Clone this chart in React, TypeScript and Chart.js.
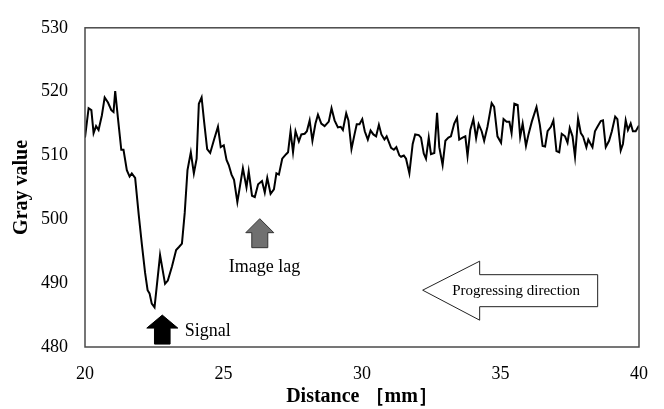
import React, { useEffect, useRef } from 'react';
import { Chart, registerables } from 'chart.js';

Chart.register(...registerables);

// Distance [mm]
const distances: number[] = [
  20.0, 20.13, 20.23, 20.31, 20.4, 20.49, 20.61, 20.71, 20.83, 20.95,
  21.03, 21.09, 21.19, 21.31, 21.39, 21.51, 21.61, 21.69, 21.81, 21.94,
  22.05, 22.17, 22.26, 22.33, 22.41, 22.51, 22.71, 22.89, 22.99, 23.14,
  23.29, 23.4, 23.5, 23.6, 23.7, 23.82, 23.93, 24.03, 24.11, 24.21,
  24.3, 24.41, 24.52, 24.66, 24.8, 24.9, 25.01, 25.11, 25.19, 25.29,
  25.38, 25.5, 25.7, 25.83, 25.91, 26.03, 26.13, 26.25, 26.39, 26.49,
  26.58, 26.7, 26.82, 26.91, 27.0, 27.12, 27.26, 27.33, 27.42, 27.51,
  27.6, 27.72, 27.81, 27.93, 28.01, 28.11, 28.21, 28.32, 28.41, 28.53,
  28.65, 28.8, 28.9, 29.01, 29.13, 29.23, 29.31, 29.43, 29.51, 29.62,
  29.73, 29.81, 29.91, 30.01, 30.1, 30.21, 30.31, 30.41, 30.51, 30.61,
  30.7, 30.81, 30.89, 31.05, 31.15, 31.24, 31.35, 31.41, 31.51, 31.59,
  31.71, 31.83, 31.92, 32.05, 32.13, 32.23, 32.31, 32.41, 32.49, 32.61,
  32.71, 32.79, 32.91, 33.01, 33.12, 33.21, 33.33, 33.43, 33.51, 33.63,
  33.73, 33.81, 33.91, 34.02, 34.12, 34.21, 34.32, 34.41, 34.53, 34.68,
  34.77, 34.89, 35.02, 35.11, 35.22, 35.32, 35.4, 35.5, 35.62, 35.71,
  35.8, 35.92, 36.01, 36.13, 36.3, 36.42, 36.52, 36.61, 36.7, 36.82,
  36.91, 37.02, 37.12, 37.21, 37.33, 37.42, 37.5, 37.6, 37.69, 37.8,
  37.9, 37.98, 38.1, 38.17, 38.23, 38.32, 38.41, 38.5, 38.62, 38.7,
  38.8, 38.92, 39.02, 39.14, 39.22, 39.34, 39.42, 39.52, 39.6, 39.7,
  39.78, 39.88, 40.0,
];

// Gray value
const grayValues: number[] = [
  512.8, 517.4, 517.1, 513.5, 514.6, 514.0, 516.3, 519.1, 518.3, 517.1,
  516.8, 520.1, 515.8, 510.9, 510.9, 507.7, 506.7, 507.2, 506.5, 500.7,
  496.2, 491.6, 488.9, 488.4, 486.8, 486.2, 494.4, 489.9, 490.4, 492.6,
  495.2, 495.7, 496.2, 501.0, 507.7, 510.5, 507.2, 509.5, 518.1, 519.1,
  515.3, 511.0, 510.4, 512.5, 514.5, 511.3, 511.6, 509.3, 508.5, 507.0,
  506.2, 502.7, 508.0, 505.0, 507.5, 503.7, 503.5, 505.5, 506.0, 504.2,
  506.5, 504.0, 504.7, 507.2, 507.0, 509.5, 510.2, 510.5, 513.8, 510.5,
  513.8, 512.2, 513.3, 513.4, 513.8, 515.5, 512.3, 515.0, 516.4, 515.0,
  514.6, 515.3, 517.4, 515.5, 514.4, 514.5, 514.0, 516.6, 515.5, 511.0,
  513.3, 514.9, 514.9, 515.7, 513.8, 512.5, 513.9, 513.3, 513.0, 514.8,
  513.3, 512.5, 513.0, 511.2, 510.9, 511.3, 510.0, 509.8, 510.0, 509.5,
  507.2, 511.8, 513.3, 513.2, 512.8, 510.3, 509.5, 512.8, 510.2, 510.4,
  516.7, 511.3, 508.5, 512.3, 512.8, 513.0, 515.0, 515.9, 512.5, 512.8,
  513.0, 509.9, 514.0, 515.7, 512.7, 514.9, 513.8, 512.3, 514.5, 518.2,
  517.6, 513.0, 512.0, 515.7, 515.3, 515.3, 513.5, 518.1, 517.9, 512.9,
  515.0, 511.5, 513.3, 515.3, 517.6, 514.8, 511.5, 511.4, 513.8, 514.5,
  515.5, 510.7, 510.5, 513.4, 513.0, 512.0, 514.3, 513.0, 509.8, 515.8,
  513.5, 513.0, 511.3, 512.5, 512.0, 511.3, 513.8, 514.5, 515.4, 515.5,
  511.3, 512.3, 513.8, 516.1, 515.7, 510.8, 511.8, 515.5, 514.0, 515.0,
  513.8, 513.8, 514.7,
];

const xTickValues = [20, 25, 30, 35, 40];
const yTickValues = [480, 490, 500, 510, 520, 530];

const xTitle = 'Distance ［mm］';
const yTitle = 'Gray value';
const signalLabel = 'Signal';
const lagLabel = 'Image lag';
const directionLabel = 'Progressing direction';

const SERIF = '"Liberation Serif", "Times New Roman", serif';

function upArrow(ctx: CanvasRenderingContext2D, tx: number, ty: number, headH: number, headHalf: number, shaftHalf: number, total: number, fill: string, stroke: string) {
  ctx.beginPath();
  ctx.moveTo(tx, ty);
  ctx.lineTo(tx + headHalf, ty + headH);
  ctx.lineTo(tx + shaftHalf, ty + headH);
  ctx.lineTo(tx + shaftHalf, ty + total);
  ctx.lineTo(tx - shaftHalf, ty + total);
  ctx.lineTo(tx - shaftHalf, ty + headH);
  ctx.lineTo(tx - headHalf, ty + headH);
  ctx.closePath();
  ctx.fillStyle = fill;
  ctx.fill();
  ctx.lineWidth = 1;
  ctx.strokeStyle = stroke;
  ctx.stroke();
}

const decorPlugin = {
  id: 'decor',
  afterDatasetsDraw(chart: any) {
    const { ctx, chartArea } = chart;
    const xs = chart.scales.x;
    const ys = chart.scales.y;
    ctx.save();
    // frame
    ctx.strokeStyle = '#4a4a4a';
    ctx.lineWidth = 1.5;
    ctx.strokeRect(chartArea.left, chartArea.top, chartArea.right - chartArea.left, chartArea.bottom - chartArea.top);

    // Signal arrow (black)
    const sx = xs.getPixelForValue(22.79);
    const sy = ys.getPixelForValue(485.0);
    upArrow(ctx, sx, sy, 13, 15.5, 7.8, 29, '#000000', '#000000');
    ctx.fillStyle = '#000000';
    ctx.font = `18px ${SERIF}`;
    ctx.textAlign = 'left';
    ctx.textBaseline = 'middle';
    ctx.fillText(signalLabel, sx + 22.5, sy + 16.5);

    // Image lag arrow (gray)
    const gx = xs.getPixelForValue(26.31);
    const gy = ys.getPixelForValue(500.1);
    upArrow(ctx, gx, gy, 14, 14, 8, 29, '#707070', '#333333');
    ctx.fillStyle = '#000000';
    ctx.fillText(lagLabel, gx - 31, gy + 49);

    // Progressing direction arrow (white, pointing left)
    const wx = xs.getPixelForValue(32.19);
    const wy = ys.getPixelForValue(488.9);
    ctx.beginPath();
    ctx.moveTo(wx, wy);
    ctx.lineTo(wx + 57, wy - 29);
    ctx.lineTo(wx + 57, wy - 15.5);
    ctx.lineTo(wx + 175, wy - 15.5);
    ctx.lineTo(wx + 175, wy + 16.5);
    ctx.lineTo(wx + 57, wy + 16.5);
    ctx.lineTo(wx + 57, wy + 30);
    ctx.closePath();
    ctx.fillStyle = '#ffffff';
    ctx.fill();
    ctx.strokeStyle = '#222222';
    ctx.lineWidth = 1;
    ctx.stroke();
    ctx.fillStyle = '#000000';
    ctx.font = `15px ${SERIF}`;
    ctx.textAlign = 'center';
    ctx.fillText(directionLabel, wx + 93.5, wy + 1);
    ctx.restore();
  },
};

export default function App() {
  const canvasRef = useRef<HTMLCanvasElement | null>(null);

  useEffect(() => {
    const canvas = canvasRef.current;
    if (!canvas) return;
    const points = distances.map((d, i) => ({ x: d, y: grayValues[i] }));
    const chart = new Chart(canvas, {
      type: 'line',
      data: {
        datasets: [
          {
            data: points,
            borderColor: '#000000',
            borderWidth: 2,
            pointRadius: 0,
            tension: 0,
            fill: false,
          },
        ],
      },
      options: {
        animation: false,
        responsive: false,
        devicePixelRatio: 1,
        layout: { padding: { top: 16, right: 24, left: 0, bottom: 0 } },
        plugins: {
          legend: { display: false },
          tooltip: { enabled: false },
        },
        scales: {
          x: {
            type: 'linear',
            min: 20,
            max: 40,
            afterFit: (s: any) => { s.height = 62; },
            afterBuildTicks: (s: any) => { s.ticks = xTickValues.map((v) => ({ value: v })); },
            grid: { display: false, drawTicks: false },
            border: { display: false },
            ticks: {
              padding: 16,
              color: '#000000',
              font: { family: SERIF, size: 18 },
              maxRotation: 0,
            },
            title: {
              display: true,
              text: xTitle,
              color: '#000000',
              font: { family: SERIF, size: 20, weight: 'bold' },
              padding: { top: 0, bottom: 0 },
            },
          },
          y: {
            type: 'linear',
            min: 480,
            max: 530,
            afterFit: (s: any) => { s.width = 85; },
            afterBuildTicks: (s: any) => { s.ticks = yTickValues.map((v) => ({ value: v })); },
            grid: { display: false, drawTicks: false },
            border: { display: false },
            ticks: {
              padding: 17,
              color: '#000000',
              font: { family: SERIF, size: 18 },
            },
            title: {
              display: true,
              text: yTitle,
              color: '#000000',
              font: { family: SERIF, size: 20, weight: 'bold' },
              padding: { top: 10, bottom: 0 },
            },
          },
        },
      },
      plugins: [decorPlugin],
    });
    return () => chart.destroy();
  }, []);

  return (
    <div style={{ position: 'fixed', left: 0, top: 0, width: 664, height: 409, background: '#ffffff' }}>
      <canvas ref={canvasRef} width={664} height={409} style={{ width: 664, height: 409, display: 'block' }} />
    </div>
  );
}
